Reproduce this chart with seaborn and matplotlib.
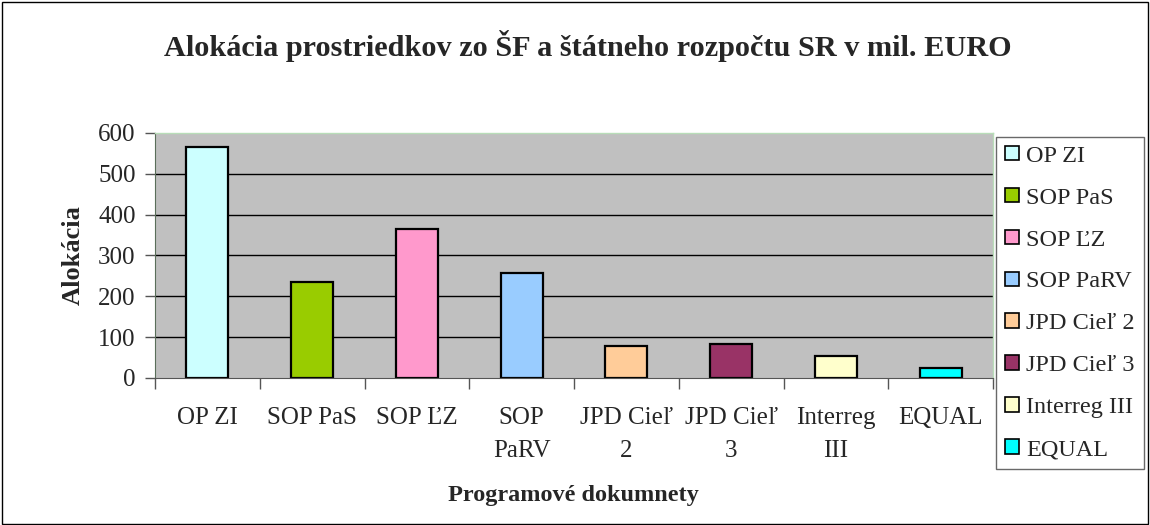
import matplotlib
matplotlib.use('Agg')
import matplotlib.pyplot as plt
import seaborn as sns
from matplotlib.patches import Patch, Rectangle

# data
programs = ['OP ZI', 'SOP PaS', 'SOP ĽZ', 'SOP PaRV', 'JPD Cieľ 2', 'JPD Cieľ 3', 'Interreg III', 'EQUAL']
tick_labels = ['OP ZI', 'SOP PaS', 'SOP ĽZ', 'SOP\nPaRV', 'JPD Cieľ\n2', 'JPD Cieľ\n3', 'Interreg\nIII', 'EQUAL']
allocation = [565, 236, 364, 256, 79, 84, 54, 25]
bar_colors = ['#CCFFFF', '#99CC00', '#FF99CC', '#99CCFF', '#FFCC99', '#993366', '#FFFFCC', '#00FFFF']
y_ticks = [0, 100, 200, 300, 400, 500, 600]

sns.set_style('white')
plt.rcParams['font.family'] = ['Liberation Serif', 'DejaVu Serif']

fig = plt.figure(figsize=(11.5, 5.25), dpi=100)
ax = fig.add_axes([0.1348, 0.28, 0.7287, 0.4667])
ax.set_facecolor('#C0C0C0')
ax.set_axisbelow(True)

sns.barplot(x=programs, y=allocation, hue=programs, order=programs, hue_order=programs,
            palette=bar_colors, saturation=1, width=0.4, edgecolor='black', linewidth=1.6,
            legend=False, ax=ax)

for t in y_ticks[1:-1]:
    ax.axhline(t, color='black', linewidth=1, zorder=0.5)

ax.set_xlim(-0.5, len(programs) - 0.5)
ax.set_ylim(y_ticks[0], y_ticks[-1])
ax.set_yticks(y_ticks)
ax.tick_params(axis='y', labelsize=18, length=7, width=1, color='#555555', direction='out', left=True, pad=7)
ax.set_xticks(range(len(programs)))
ax.set_xticklabels(tick_labels, fontsize=18, linespacing=1.65)
ax.tick_params(axis='x', which='major', length=0, pad=21)
ax.set_xticks([i - 0.5 for i in range(len(programs) + 1)], minor=True)
ax.tick_params(axis='x', which='minor', length=8, width=1, color='#555555', direction='out', bottom=True)

ax.set_xlabel('')
ax.set_ylabel('')
for side in ['top', 'right']:
    ax.spines[side].set_color('#B8DDB8')
    ax.spines[side].set_linewidth(1)
ax.spines['left'].set_color('#5A6E5A')
ax.spines['bottom'].set_color('#555555')

fig.text(0.511, 0.912, 'Alokácia prostriedkov zo ŠF a štátneho rozpočtu SR v mil. EURO',
         ha='center', va='center', fontsize=21.8, fontweight='bold')
fig.text(0.064, 0.514, 'Alokácia', ha='center', va='center', rotation=90, fontsize=19, fontweight='bold')
fig.text(0.499, 0.057, 'Programové dokumnety', ha='center', va='center', fontsize=17.5, fontweight='bold')

handles = [Patch(facecolor=c, edgecolor='black', linewidth=1.2, label=p) for p, c in zip(programs, bar_colors)]
leg = fig.legend(handles=handles, loc='upper left', bbox_to_anchor=(0.866, 0.74),
                 fontsize=17.5, frameon=True, fancybox=False, edgecolor='#444444',
                 handlelength=0.55, handleheight=0.55, handletextpad=0.3,
                 labelspacing=0.86, borderpad=0.38, borderaxespad=0)
leg.get_frame().set_linewidth(1)

fig.add_artist(Rectangle((0.002, 0.002), 0.996, 0.995, transform=fig.transFigure,
                         fill=False, edgecolor='black', linewidth=1))

fig.savefig('out.png', dpi=100)
